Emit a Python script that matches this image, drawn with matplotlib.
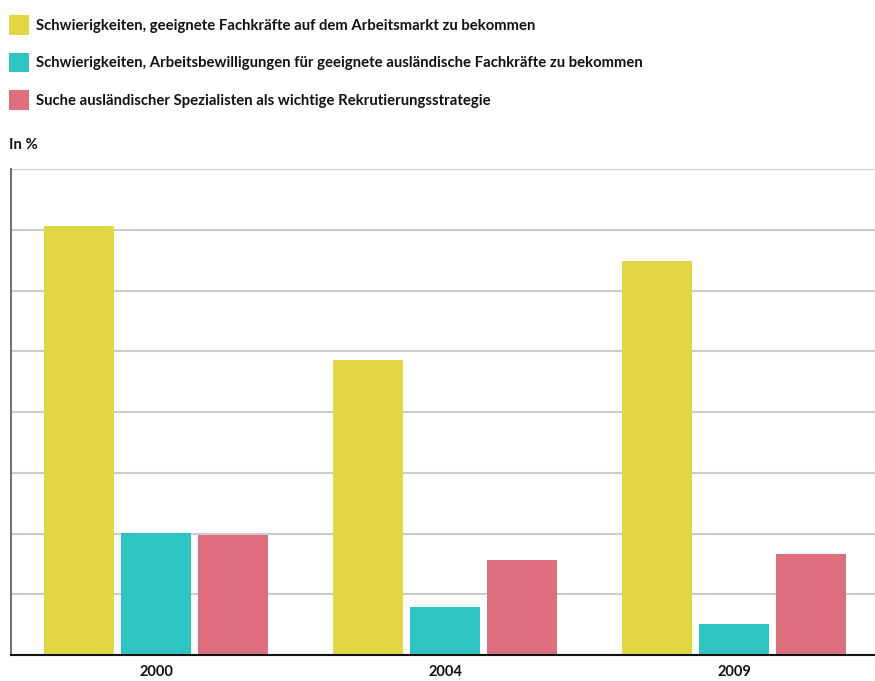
import numpy as np
import matplotlib
matplotlib.use('Agg')
import matplotlib.pyplot as plt

plt.rcParams['font.family'] = ['Lato', 'DejaVu Sans']

years = ['2000', '2004', '2009']
series_labels = [
    'Schwierigkeiten, geeignete Fachkräfte auf dem Arbeitsmarkt zu bekommen',
    'Schwierigkeiten, Arbeitsbewilligungen für geeignete ausländische Fachkräfte zu bekommen',
    'Suche ausländischer Spezialisten als wichtige Rekrutierungsstrategie',
]
fachkraefte = [70.6, 48.5, 64.8]
bewilligungen = [20.1, 7.9, 5.1]
spezialisten = [19.8, 15.7, 16.6]
colors = ['#E2D642', '#2EC4C1', '#DE6E7E']

fig = plt.figure(figsize=(8.75, 6.81), dpi=100)
ax = fig.add_axes([11 / 875, 26 / 681, 1 - 11 / 875, 486 / 681])

x = np.arange(len(years))
width = 0.242
step = 0.266
for i, (vals, lab, col) in enumerate(zip([fachkraefte, bewilligungen, spezialisten], series_labels, colors)):
    ax.bar(x + (i - 1) * step, vals, width, color=col, label=lab, zorder=3)

ax.set_xlim(-0.502, 2.488)
ax.set_ylim(0, 80)
ax.set_yticks(np.arange(0, 81, 10))
ax.set_yticklabels([])
ax.tick_params(axis='y', length=0)
ax.grid(axis='y', color='#cccccc', linewidth=1.5, zorder=0)
ax.set_xticks(x)
ax.set_xticklabels(years, fontweight='bold', fontsize=10.5, color='#111111')
ax.tick_params(axis='x', length=0, pad=7.5)
for s in ['top', 'right']:
    ax.spines[s].set_visible(False)
ax.spines['left'].set_color('#555555')
ax.spines['left'].set_linewidth(1.2)
ax.spines['bottom'].set_color('#111111')
ax.spines['bottom'].set_linewidth(1.5)
ax.spines['bottom'].set_zorder(4)

leg = ax.legend(loc='upper left', bbox_to_anchor=(9 / 875, 1 - 15 / 681),
                bbox_transform=fig.transFigure, frameon=False, borderpad=0,
                borderaxespad=0, handlelength=1.346, handleheight=1.69,
                handletextpad=0.47, labelspacing=1.18,
                prop={'weight': 'bold', 'size': 10.7})
for t in leg.get_texts():
    t.set_color('#111111')

fig.text(9 / 875, 1 - 145 / 681, 'In %', fontweight='bold', fontsize=10.7,
         va='center', ha='left', color='#111111')

fig.savefig('out.png', dpi=100)
